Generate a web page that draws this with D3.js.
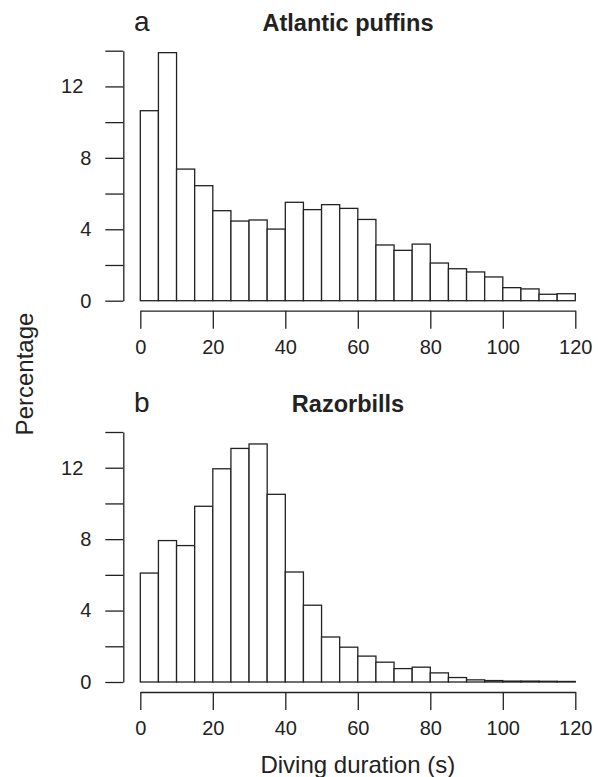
<!DOCTYPE html>
<html>
<head>
<meta charset="utf-8">
<script src="https://cdn.jsdelivr.net/npm/d3@7"></script>
<style>
  body { margin: 0; background: #fff; }
  svg text { font-family: "Liberation Sans", Arial, Helvetica, sans-serif; fill: #222; }
</style>
</head>
<body>
<div id="chart"></div>
<script>
// bin start (s), each bin is 5 s wide
const binStarts = [0, 5, 10, 15, 20, 25, 30, 35, 40, 45, 50, 55, 60, 65, 70, 75, 80, 85, 90, 95, 100, 105, 110, 115];
const binWidth = 5;

// percentage of dives per bin
const puffins = [10.64, 13.89, 7.37, 6.44, 5.04, 4.46, 4.52, 4.01, 5.51, 5.10, 5.38, 5.17,
                 4.55, 3.12, 2.82, 3.17, 2.11, 1.79, 1.61, 1.33, 0.73, 0.66, 0.36, 0.39];
const razorbills = [6.10, 7.92, 7.64, 9.84, 11.94, 13.08, 13.33, 10.51, 6.16, 4.30, 2.52, 1.95,
                    1.45, 1.11, 0.75, 0.83, 0.51, 0.25, 0.12, 0.08, 0.05, 0.05, 0.04, 0.03];

const xTicks = [0, 20, 40, 60, 80, 100, 120];
const yTicks = [0, 2, 4, 6, 8, 10, 12, 14];
const yLabels = [0, 4, 8, 12];

const W = 598, H = 777;
const ink = "#222";

const svg = d3.select("#chart")
  .append("svg")
  .attr("width", W)
  .attr("height", H);

const x = d3.scaleLinear().domain([0, 120]).range([140.3, 575.3]);

function panel(values, letter, title, top) {
  // top = pixel y of the 14% tick, 0% sits 250px lower
  const y = d3.scaleLinear().domain([0, 14]).range([top + 250, top]);
  const g = svg.append("g");

  // bars
  g.selectAll("rect")
    .data(values)
    .enter().append("rect")
    .attr("x", (d, i) => x(binStarts[i]))
    .attr("y", d => y(d))
    .attr("width", (d, i) => x(binStarts[i] + binWidth) - x(binStarts[i]))
    .attr("height", d => y(0) - y(d))
    .attr("fill", "#fff")
    .attr("stroke", ink)
    .attr("stroke-width", 1.3);

  // x axis, offset below the bars like R does
  const xa = g.append("g")
    .attr("transform", "translate(0," + (y(0) + 10) + ")")
    .call(d3.axisBottom(x).tickValues(xTicks).tickSize(18).tickSizeOuter(0).tickPadding(11));

  // y axis, offset left
  const ya = g.append("g")
    .attr("transform", "translate(123.3,0)")
    .call(d3.axisLeft(y).tickValues(yTicks).tickSize(18).tickSizeOuter(0).tickPadding(14)
      .tickFormat(d => yLabels.includes(d) ? d : ""));

  [xa, ya].forEach(a => {
    a.select(".domain").attr("stroke", ink).attr("stroke-width", 1.3);
    a.selectAll(".tick line").attr("stroke", ink).attr("stroke-width", 1.3);
    a.selectAll("text").style("font-size", "20px").attr("font-family", null);
  });
  ya.selectAll("text").filter(d => d >= 10).attr("dx", -8); // two-digit labels sit further left

  g.append("text")
    .attr("x", 134)
    .attr("y", top - 20)
    .style("font-size", "28px")
    .text(letter);

  g.append("text")
    .attr("x", 348)
    .attr("y", top - 20)
    .attr("text-anchor", "middle")
    .style("font-size", "23.5px")
    .style("font-weight", "bold")
    .text(title);
}

panel(puffins, "a", "Atlantic puffins", 50.7);
panel(razorbills, "b", "Razorbills", 432);

svg.append("text")
  .attr("transform", "translate(33,374) rotate(-90)")
  .attr("text-anchor", "middle")
  .style("font-size", "24px")
  .text("Percentage");

svg.append("text")
  .attr("x", 357.8)
  .attr("y", 773)
  .attr("text-anchor", "middle")
  .style("font-size", "24px")
  .text("Diving duration (s)");
</script>
</body>
</html>
